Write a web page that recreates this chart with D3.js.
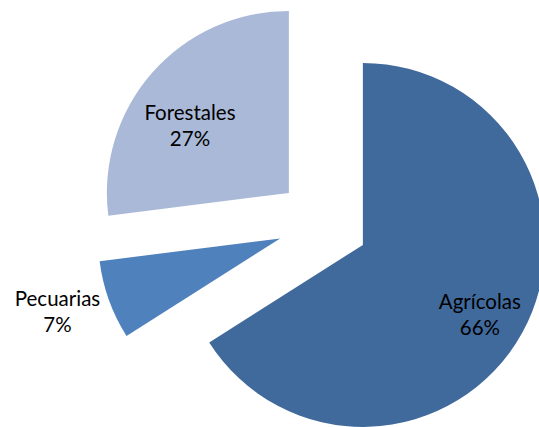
<!DOCTYPE html>
<html><head><meta charset="utf-8">
<script src="https://cdn.jsdelivr.net/npm/d3@7"></script>
<style>body{margin:0;background:#fff}svg{display:block}</style>
</head><body>
<script>
const categories = ["Agrícolas", "Pecuarias", "Forestales"];
const values = [66, 7, 27];
const colors = ["#416A9C", "#4F81BD", "#AAB9D7"];

const W = 539, H = 427;
const cx = 323, cy = 223, R = 182, explode = 45.5;
// label placement (distance from slice apex, angle in degrees clockwise from top)
const labelPos = [{d: 140.3, a: 123.5}, {d: 237, a: 250}, {d: 115.4, a: 301}];

const svg = d3.select("body").append("svg").attr("width", W).attr("height", H);
const pie = d3.pie().sort(null).value(d => d)(values);
const arc = d3.arc().innerRadius(0).outerRadius(R);
const g = svg.append("g").attr("transform", `translate(${cx},${cy})`);

pie.forEach((p, i) => {
  const mid = (p.startAngle + p.endAngle) / 2;
  const ox = explode * Math.sin(mid), oy = -explode * Math.cos(mid);
  const sg = g.append("g").attr("transform", `translate(${ox},${oy})`);
  sg.append("path").attr("d", arc(p)).attr("fill", colors[i]);
  const a = labelPos[i].a * Math.PI / 180;
  const lx = labelPos[i].d * Math.sin(a), ly = -labelPos[i].d * Math.cos(a);
  const t = sg.append("text").attr("text-anchor", "middle")
    .attr("font-family", "Lato, 'Open Sans', sans-serif").attr("font-size", 20.5).attr("fill", "#000");
  t.append("tspan").attr("x", lx).attr("y", ly - 13).text(categories[i]);
  t.append("tspan").attr("x", lx).attr("y", ly + 13).text(values[i] + "%");
});
</script>
</body></html>
